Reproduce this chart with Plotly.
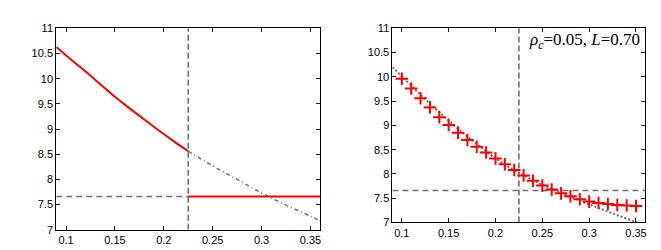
import plotly.graph_objects as go

# ---- data ----
x_threshold = 0.225
y_threshold = 7.66

# left panel: solid red curve (below threshold) and grey dash-dot continuation
left_curve_x = [0.09, 0.105, 0.12, 0.135, 0.15, 0.165, 0.18, 0.195, 0.21, 0.225]
left_curve_y = [10.63, 10.38, 10.14, 9.89, 9.64, 9.41, 9.19, 8.97, 8.76, 8.56]
left_cont_x = [0.225, 0.25, 0.275, 0.30, 0.325, 0.35, 0.36]
left_cont_y = [8.56, 8.27, 8.00, 7.73, 7.49, 7.27, 7.18]
left_flat_x = [0.225, 0.36]
left_flat_y = [7.66, 7.66]

# right panel: red crosses (simulation) and grey dotted curve
right_pts_x = [0.10, 0.11, 0.12, 0.13, 0.14, 0.15, 0.16, 0.17, 0.18, 0.19, 0.20,
               0.21, 0.22, 0.23, 0.24, 0.25, 0.26, 0.27, 0.28, 0.29, 0.30,
               0.31, 0.32, 0.33, 0.34, 0.35]
right_pts_y = [9.96, 9.76, 9.56, 9.37, 9.17, 9.01, 8.85, 8.70, 8.56, 8.44, 8.32,
               8.20, 8.08, 7.97, 7.86, 7.76, 7.68, 7.60, 7.54, 7.48, 7.43,
               7.40, 7.38, 7.36, 7.35, 7.34]
right_curve_x = [0.09, 0.10, 0.12, 0.14, 0.16, 0.18, 0.20, 0.225, 0.25, 0.27, 0.29, 0.31, 0.33, 0.35, 0.36]
right_curve_y = [10.20, 10.01, 9.63, 9.27, 8.93, 8.62, 8.32, 8.02, 7.78, 7.61, 7.45, 7.30, 7.15, 7.01, 6.94]

x_range = [0.09, 0.36]
y_range = [7, 11]
x_ticks = [0.1, 0.15, 0.2, 0.25, 0.3, 0.35]
x_ticktext = ["0.1", "0.15", "0.2", "0.25", "0.3", "0.35"]
y_ticks = [7, 7.5, 8, 8.5, 9, 9.5, 10, 10.5, 11]
y_ticktext = ["7", "7.5", "8", "8.5", "9", "9.5", "10", "10.5", "11"]

annotation_text = "<i>ρ</i><sub><i>c</i></sub>=0.05, <i>L</i>=0.70"

GREY = "#707070"
RED = "#ff0000"

fig = go.Figure()

# ---- left panel ----
fig.add_trace(go.Scatter(x=[x_range[0], x_threshold], y=[y_threshold, y_threshold],
                         mode="lines", line=dict(color=GREY, width=1.6, dash="6px,4px"),
                         xaxis="x", yaxis="y", showlegend=False))
fig.add_trace(go.Scatter(x=[x_threshold, x_threshold], y=y_range,
                         mode="lines", line=dict(color=GREY, width=1.6, dash="6px,3px"),
                         xaxis="x", yaxis="y", showlegend=False))
fig.add_trace(go.Scatter(x=left_cont_x, y=left_cont_y, mode="lines",
                         line=dict(color=GREY, width=1.5, dash="4px,3px,1px,3px", shape="spline"),
                         xaxis="x", yaxis="y", showlegend=False))
fig.add_trace(go.Scatter(x=left_curve_x, y=left_curve_y, mode="lines",
                         line=dict(color=RED, width=2, shape="spline"),
                         xaxis="x", yaxis="y", showlegend=False))
fig.add_trace(go.Scatter(x=left_flat_x, y=left_flat_y, mode="lines",
                         line=dict(color=RED, width=2),
                         xaxis="x", yaxis="y", showlegend=False))

# ---- right panel ----
fig.add_trace(go.Scatter(x=x_range, y=[y_threshold, y_threshold],
                         mode="lines", line=dict(color=GREY, width=1.6, dash="6px,4px"),
                         xaxis="x2", yaxis="y2", showlegend=False))
fig.add_trace(go.Scatter(x=[x_threshold, x_threshold], y=y_range,
                         mode="lines", line=dict(color=GREY, width=1.6, dash="6px,3px"),
                         xaxis="x2", yaxis="y2", showlegend=False))
fig.add_trace(go.Scatter(x=right_curve_x, y=right_curve_y, mode="lines",
                         line=dict(color=GREY, width=2, dash="2px,2px", shape="spline"),
                         xaxis="x2", yaxis="y2", showlegend=False))
fig.add_trace(go.Scatter(x=right_pts_x, y=right_pts_y, mode="markers",
                         marker=dict(symbol="cross-thin", size=9, line=dict(color=RED, width=2)),
                         xaxis="x2", yaxis="y2", showlegend=False))

axis_common = dict(showline=True, linecolor="black", linewidth=1, mirror="allticks",
                   ticks="inside", ticklen=4, tickwidth=1, tickcolor="#222",
                   showgrid=False, zeroline=False,
                   tickfont=dict(family="Liberation Sans, Arial, sans-serif", size=11, color="#000"))

fig.update_layout(
    width=661, height=250,
    margin=dict(l=0, r=0, t=0, b=0),
    paper_bgcolor="white", plot_bgcolor="white",
    xaxis=dict(domain=[0.0731, 0.4731], anchor="y", range=x_range,
               tickvals=x_ticks, ticktext=x_ticktext, **axis_common),
    yaxis=dict(domain=[0.0932, 0.94], anchor="x", range=y_range,
               tickvals=y_ticks, ticktext=y_ticktext, **axis_common),
    xaxis2=dict(domain=[0.5825, 0.9657], anchor="y2", range=x_range,
                tickvals=x_ticks, ticktext=x_ticktext, **axis_common),
    yaxis2=dict(domain=[0.124, 0.94], anchor="x2", range=y_range,
                tickvals=y_ticks, ticktext=y_ticktext, **axis_common),
    annotations=[dict(text=annotation_text, xref="paper", yref="paper",
                      x=0.96, y=0.885, xanchor="right", yanchor="middle", showarrow=False,
                      font=dict(family="Liberation Serif, Times New Roman, serif", size=17, color="black"))],
)

fig.write_html("out.html")
